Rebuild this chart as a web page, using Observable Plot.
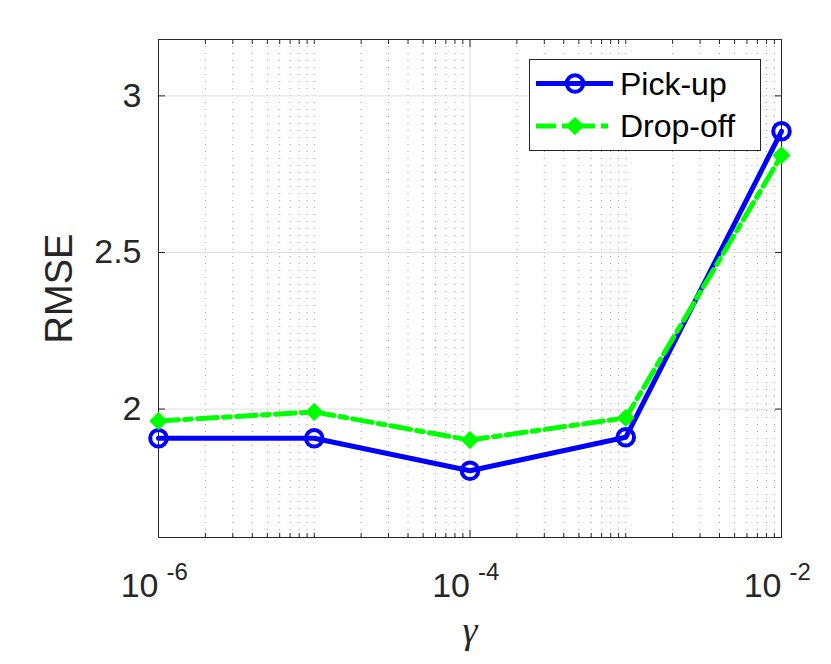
<!DOCTYPE html>
<html><head><meta charset="utf-8">
<script src="https://cdn.jsdelivr.net/npm/d3@7"></script>
<script src="https://cdn.jsdelivr.net/npm/@observablehq/plot@0.6"></script>
<style>body{margin:0;background:#fff}</style>
</head><body><div id="chart"></div>
<script>
const gammas = [1e-6, 1e-5, 1e-4, 1e-3, 1e-2];
const pickup = [1.907, 1.907, 1.803, 1.910, 2.887];
const dropoff = [1.962, 1.991, 1.901, 1.972, 2.810];
const seriesNames = ["Pick-up", "Drop-off"];
const xMajorTicks = [1e-6, 1e-4, 1e-2];
const xTickBase = ["10", "10", "10"];
const xTickExponents = ["-6", "-4", "-2"];
const yTicks = [2, 2.5, 3];
const yTickLabels = ["2", "2.5", "3"];

// minor log ticks (2..9 in each decade, plus the unlabeled decades)
const xMinorTicks = [1e-5, 1e-3];
for (let e = -6; e <= -3; e++) for (let m = 2; m <= 9; m++) xMinorTicks.push(+(m * Math.pow(10, e)).toPrecision(3));

const rows = gammas.map((g, i) => ({gamma: g, pickup: pickup[i], dropoff: dropoff[i]}));

const ink = "#262626";
const blue = "#0000ff", green = "#00ff00";
const dash = "20,6,7,6";
const blank = () => "";
const diamondR = 7;

const plot = Plot.plot({
  width: 831, height: 664,
  marginLeft: 158, marginRight: 50, marginTop: 39, marginBottom: 127,
  style: {fontFamily: "'Liberation Sans', Arial, sans-serif", background: "white", color: ink, overflow: "visible"},
  x: {type: "log", domain: [1e-6, 1e-2]},
  y: {domain: [1.59, 3.18]},
  marks: [
    Plot.gridX(xMinorTicks, {stroke: "#9a9a9a", strokeOpacity: 1, strokeWidth: 1, strokeDasharray: "1,6"}),
    Plot.gridX(xMajorTicks, {stroke: "#dfdfdf", strokeOpacity: 1, strokeWidth: 1}),
    Plot.gridY(yTicks, {stroke: "#dfdfdf", strokeOpacity: 1, strokeWidth: 1}),
    Plot.axisX(xMinorTicks, {anchor: "bottom", tickSize: -4, tickFormat: blank, label: null, stroke: ink}),
    Plot.axisX(xMinorTicks, {anchor: "top", tickSize: -4, tickFormat: blank, label: null, stroke: ink}),
    Plot.axisX(xMajorTicks, {anchor: "bottom", tickSize: -7, tickFormat: blank, label: null, stroke: ink}),
    Plot.axisX(xMajorTicks, {anchor: "top", tickSize: -7, tickFormat: blank, label: null, stroke: ink}),
    Plot.axisY(yTicks, {anchor: "left", tickSize: -7, tickFormat: blank, label: null, stroke: ink}),
    Plot.axisY(yTicks, {anchor: "right", tickSize: -7, tickFormat: blank, label: null, stroke: ink}),
    Plot.frame({stroke: ink, strokeWidth: 1}),
    Plot.line(rows, {x: "gamma", y: "pickup", stroke: blue, strokeWidth: 5}),
    Plot.dot(rows, {x: "gamma", y: "pickup", r: 8.3, stroke: blue, strokeWidth: 4, fill: "none"}),
    Plot.line(rows, {x: "gamma", y: "dropoff", stroke: green, strokeWidth: 5, strokeDasharray: dash}),
    Plot.dot(rows, {x: "gamma", y: "dropoff", symbol: "diamond2", r: diamondR, fill: green, stroke: green, strokeWidth: 2, strokeLinejoin: "round"}),
    Plot.text(yTicks, {y: d => d, text: (d, i) => yTickLabels[i], frameAnchor: "left", textAnchor: "end", lineAnchor: "middle", dx: -17, fontSize: 34, fill: ink}),
    Plot.text(xMajorTicks, {x: d => d, text: (d, i) => xTickBase[i], frameAnchor: "bottom", textAnchor: "end", lineAnchor: "bottom", dy: 59, dx: 0, fontSize: 34, fill: ink}),
    Plot.text(xMajorTicks, {x: d => d, text: (d, i) => xTickExponents[i], frameAnchor: "bottom", textAnchor: "start", lineAnchor: "bottom", dy: 42, dx: 8, fontSize: 24, fill: ink}),
    Plot.text(["RMSE"], {text: d => d, frameAnchor: "left", rotate: -90, dx: -87, lineAnchor: "bottom", textAnchor: "middle", fontSize: 38, fill: ink}),
    Plot.text(["γ"], {text: d => d, frameAnchor: "bottom", dy: 105, lineAnchor: "bottom", textAnchor: "middle", fontSize: 38, fontFamily: "'Liberation Serif', 'DejaVu Serif', serif", fontStyle: "italic", fill: ink})
  ]
});

// legend inside the axes (top-right)
const svg = d3.select(plot);
const lg = svg.append("g").attr("font-family", "'Liberation Sans', Arial, sans-serif").attr("text-anchor", "start");
lg.append("rect").attr("x", 529.5).attr("y", 59.5).attr("width", 231).attr("height", 91)
  .attr("fill", "white").attr("stroke", ink).attr("stroke-width", 1);
const rowsY = [83.5, 126];
// Pick-up
lg.append("line").attr("x1", 536).attr("x2", 613).attr("y1", rowsY[0]).attr("y2", rowsY[0])
  .attr("stroke", blue).attr("stroke-width", 5);
lg.append("circle").attr("cx", 575).attr("cy", rowsY[0]).attr("r", 8.3)
  .attr("fill", "none").attr("stroke", blue).attr("stroke-width", 4);
// Drop-off
lg.append("line").attr("x1", 536).attr("x2", 613).attr("y1", rowsY[1]).attr("y2", rowsY[1])
  .attr("stroke", green).attr("stroke-width", 5).attr("stroke-dasharray", dash);
lg.append("path").attr("transform", `translate(575,${rowsY[1]})`)
  .attr("d", d3.symbol(d3.symbolDiamond2, Math.PI * diamondR * diamondR)())
  .attr("fill", green).attr("stroke", green).attr("stroke-width", 2).attr("stroke-linejoin", "round");
seriesNames.forEach((name, i) => {
  lg.append("text").attr("x", 620).attr("y", rowsY[i] + 11).attr("font-size", 32)
    .attr("text-anchor", "start").attr("fill", "#000").text(name);
});

document.getElementById("chart").appendChild(plot);
</script>
</body></html>
